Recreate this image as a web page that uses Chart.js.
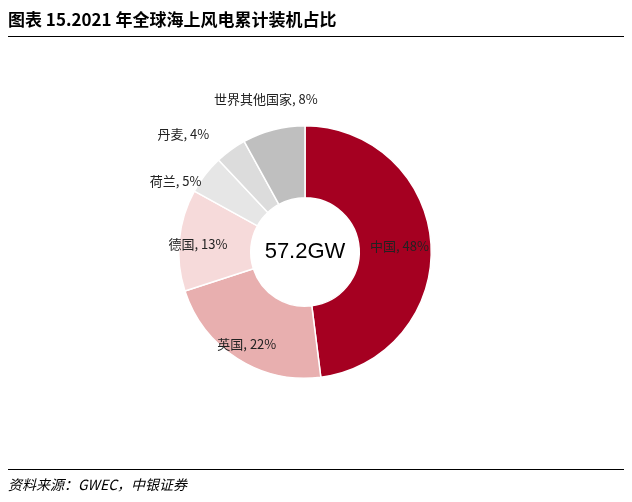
<!DOCTYPE html>
<html><head><meta charset="utf-8">
<script src="https://cdn.jsdelivr.net/npm/chart.js@4"></script>
<style>
body{margin:0;width:632px;height:502px;background:#fff;position:relative;overflow:hidden;font-family:"Noto Sans CJK SC",sans-serif}
#title{position:absolute;left:8px;top:6px;font-size:17px;font-weight:bold;color:#000}
#l1{position:absolute;left:8px;right:8px;top:36px;border-top:1.5px solid #000}
#l2{position:absolute;left:8px;right:8px;top:469px;border-top:1px solid #000}
#src{position:absolute;left:8px;top:474px;font-size:14px;font-style:italic}
#wrap{position:absolute;left:0;top:0;width:632px;height:502px}
</style></head><body>
<div id="wrap"><canvas id="c" width="632" height="502"></canvas></div>
<div id="title">图表 15.2021 年全球海上风电累计装机占比</div>
<div id="l1"></div><div id="l2"></div>
<div id="src">资料来源：GWEC，中银证券</div>
<script>
// share of cumulative offshore wind capacity, 2021
const categories = ['中国', '英国', '德国', '荷兰', '丹麦', '世界其他国家'];
const shares = [48, 22, 13, 5, 4, 8];
const colors = ['#A50021', '#E8AFAF', '#F6DADA', '#E6E6E6', '#DCDCDC', '#BFBFBF'];
const centerText = '57.2GW';
// label distance from centre (multiple of outer radius) and angle shift in degrees
const labelRadius = [0.75, 0.86, 0.85, 1.17, 1.34, 1.25];
const labelShift = [0, 0, -1, -9, -10, 0];

const labelPlugin = {
	id: 'labels',
	afterDatasetsDraw(chart) {
		const ctx = chart.ctx;
		const arcs = chart.getDatasetMeta(0).data;
		ctx.save();
		ctx.textAlign = 'center';
		ctx.textBaseline = 'middle';
		ctx.font = '13px "Noto Sans CJK SC"';
		ctx.fillStyle = '#222';
		arcs.forEach((arc, i) => {
			const mid = (arc.startAngle + arc.endAngle) / 2 + labelShift[i] * Math.PI / 180;
			const r = arc.outerRadius * labelRadius[i];
			ctx.fillText(categories[i] + ', ' + shares[i] + '%', arc.x + Math.cos(mid) * r, arc.y + Math.sin(mid) * r);
		});
		ctx.font = '22px "Liberation Sans"';
		ctx.fillStyle = '#000';
		ctx.fillText(centerText, arcs[0].x, arcs[0].y);
		ctx.restore();
	}
};

new Chart(document.getElementById('c'), {
	type: 'doughnut',
	data: {
		labels: categories,
		datasets: [{ data: shares, backgroundColor: colors, borderColor: '#fff', borderWidth: 1.5 }]
	},
	options: {
		responsive: false,
		animation: false,
		cutout: '43%',
		layout: { padding: { left: 178, right: 200, top: 125, bottom: 123 } },
		plugins: { legend: { display: false }, tooltip: { enabled: false } }
	},
	plugins: [labelPlugin]
});
</script>
</body></html>
